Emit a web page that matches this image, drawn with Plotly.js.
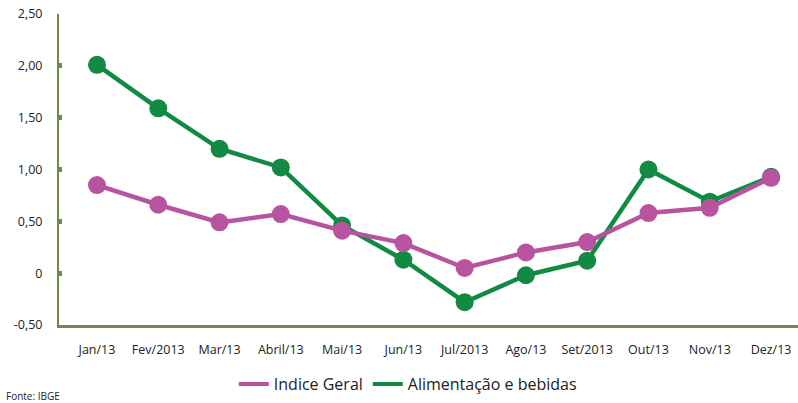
<!DOCTYPE html>
<html>
<head>
<meta charset="utf-8">
<script src="https://cdn.plot.ly/plotly-3.0.1.min.js"></script>
<style>html,body{margin:0;padding:0;background:#fff;}#chart{width:798px;height:403px;}</style>
</head>
<body>
<div id="chart"></div>
<script>
const months = ["Jan/13","Fev/2013","Mar/13","Abril/13","Mai/13","Jun/13","Jul/2013","Ago/13","Set/2013","Out/13","Nov/13","Dez/13"];
const indiceGeral = [0.85,0.66,0.49,0.57,0.41,0.29,0.05,0.20,0.30,0.58,0.63,0.92];
const alimentacao = [2.01,1.59,1.20,1.02,0.46,0.13,-0.28,-0.02,0.12,1.00,0.69,0.93];
const yTickVals = [-0.5,0,0.5,1,1.5,2,2.5];
const yTickText = ["-0,50","0","0,50","1,00","1,50","2,00","2,50"];
const seriesNames = ["Indice Geral","Alimentação e bebidas"];

const green = "#128a43";
const pink = "#b8549f";
const axisCol = "#6e8b4a";
const font = "Open Sans, Noto Sans, sans-serif";

const traces = [
  {x: months, y: alimentacao, name: seriesNames[1], type: "scatter", mode: "lines+markers",
   line: {color: green, width: 4.5}, marker: {color: green, size: 18}, showlegend: false, hoverinfo: "skip"},
  {x: months, y: indiceGeral, name: seriesNames[0], type: "scatter", mode: "lines+markers",
   line: {color: pink, width: 4.5}, marker: {color: pink, size: 18}, showlegend: false, hoverinfo: "skip"},
  // legend-only entries (line sample without marker)
  {x: [null], y: [null], name: seriesNames[0], type: "scatter", mode: "lines",
   line: {color: pink, width: 4}, legendrank: 1, hoverinfo: "skip"},
  {x: [null], y: [null], name: seriesNames[1], type: "scatter", mode: "lines",
   line: {color: green, width: 4}, legendrank: 2, hoverinfo: "skip"}
];

const layout = {
  width: 798, height: 403,
  margin: {l: 59, r: 0, t: 14, b: 78},
  paper_bgcolor: "#fff", plot_bgcolor: "#fff",
  font: {family: font, color: "#222"},
  showlegend: true,
  legend: {orientation: "h", x: 0.472, xanchor: "center", y: -0.19, yanchor: "middle",
           font: {size: 16, family: font, color: "#222"}},
  xaxis: {type: "category", range: [-0.62, 11.44], showgrid: false, zeroline: false,
          showline: true, linecolor: axisCol, linewidth: 3, ticks: "", ticklabelstandoff: 11,
          tickfont: {size: 12.5, family: font, color: "#222"}, fixedrange: true},
  yaxis: {range: [-0.5, 2.5], showgrid: false, zeroline: false, showline: true,
          linecolor: axisCol, linewidth: 2, ticks: "inside", ticklen: 3, tickwidth: 5, tickcolor: axisCol,
          tickvals: yTickVals, ticktext: yTickText, ticklabelstandoff: 12,
          tickfont: {size: 12.5, family: font, color: "#222"}, fixedrange: true},
  annotations: [{text: "Fonte: IBGE", xref: "paper", yref: "paper", x: -0.074, y: -0.228,
                 xanchor: "left", yanchor: "middle", showarrow: false,
                 font: {size: 10, family: font, color: "#222"}}]
};

Plotly.newPlot("chart", traces, layout, {displayModeBar: false, staticPlot: true});
</script>
</body>
</html>
